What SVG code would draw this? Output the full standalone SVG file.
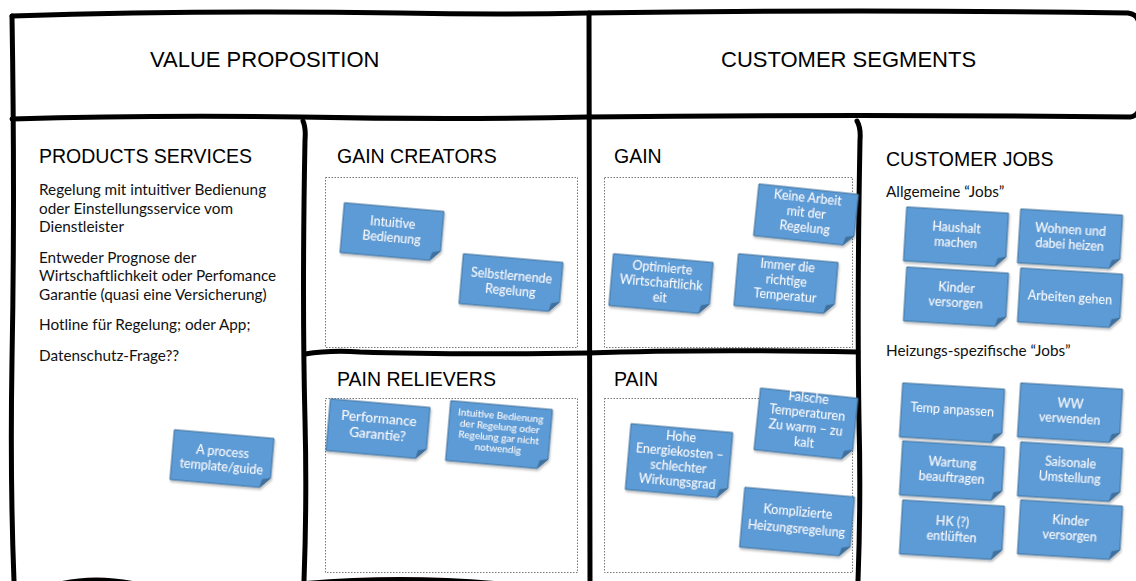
<svg xmlns="http://www.w3.org/2000/svg" width="1136" height="581" viewBox="0 0 1136 581">
<style>
.frame{fill:none;stroke:#000;stroke-width:5;stroke-linecap:round;stroke-linejoin:round}
.dot{fill:none;stroke:#777;stroke-width:1;stroke-dasharray:1.5 1.5}
.h1{font-family:"Liberation Sans",Arial,sans-serif;font-size:22px;fill:#000}
.h2{font-family:"Liberation Sans",Arial,sans-serif;font-size:19.5px;fill:#000}
.body{font-family:Lato,"Open Sans",sans-serif;font-size:15.3px;fill:#111}
.nb{fill:#5B9BD5;stroke:#41719C;stroke-width:1}
.nf{fill:#3F6F9E;stroke:#41719C;stroke-width:0.8}
.nt{font-family:Lato,"Open Sans",sans-serif;font-size:12.5px;fill:#fff;text-anchor:middle}
.ns{font-size:10px}
</style>
<defs>
<filter id="sh" x="-10%" y="-10%" width="130%" height="140%"><feDropShadow dx="1" dy="2" stdDeviation="1.2" flood-color="#000" flood-opacity="0.25"/></filter>
</defs>

<g id="frame">
<path class="frame" d="M12,16 Q200,10 400,13 Q500,15 588,13 Q860,9 1128,13 Q1136,14 1138,20"/>
<path class="frame" d="M12,16 Q15,200 12,360 Q10,480 14,581"/>
<path class="frame" d="M12,119 Q150,115 300,117 Q450,120 588,117 Q860,114 1130,117 Q1136,116 1138,112"/>
<path class="frame" d="M589,13 Q590,300 590,581"/>
<path class="frame" d="M303,121 Q306,128 305,140 Q302,300 305,420 Q307,500 304,581"/>
<path class="frame" d="M857,121 Q861,128 860,140 Q857,300 859,420 Q861,500 858,581"/>
<path class="frame" d="M305,354 Q330,350 360,352 Q450,355 588,353 Q700,349 858,352"/>
<path class="frame" d="M60,584 Q95,576 135,584"/>
<path class="frame" d="M300,584 Q400,575 500,584"/>
</g>

<g id="dotted-boxes">
<rect class="dot" x="325.5" y="177.5" width="252" height="170"/>
<rect class="dot" x="325.5" y="398.5" width="252" height="174"/>
<rect class="dot" x="604.5" y="177.5" width="248" height="170"/>
<rect class="dot" x="604.5" y="398.5" width="248" height="174"/>
</g>

<g id="headers">
<text class="h1" x="150" y="67">VALUE PROPOSITION</text>
<text class="h1" x="721" y="67">CUSTOMER SEGMENTS</text>
<text class="h2" x="39" y="163">PRODUCTS SERVICES</text>
<text class="h2" x="337" y="163">GAIN CREATORS</text>
<text class="h2" x="614" y="163">GAIN</text>
<text class="h2" x="886" y="166">CUSTOMER JOBS</text>
<text class="h2" x="337" y="386">PAIN RELIEVERS</text>
<text class="h2" x="614" y="386">PAIN</text>
</g>

<g id="products-text">
<text class="body" x="39" y="195">Regelung mit intuitiver Bedienung</text>
<text class="body" x="39" y="214">oder Einstellungsservice vom</text>
<text class="body" x="39" y="232">Dienstleister</text>
<text class="body" x="39" y="263">Entweder Prognose der</text>
<text class="body" x="39" y="281">Wirtschaftlichkeit oder Perfomance</text>
<text class="body" x="39" y="300">Garantie (quasi eine Versicherung)</text>
<text class="body" x="39" y="330">Hotline für Regelung; oder App;</text>
<text class="body" x="39" y="361">Datenschutz-Frage??</text>
</g>

<g id="jobs-text">
<text class="body" x="886" y="197">Allgemeine “Jobs”</text>
<text class="body" x="886" y="356">Heizungs-spezifische “Jobs”</text>
</g>

<g id="note-process" transform="translate(222,459) rotate(5)" filter="url(#sh)">
<path class="nb" d="M-50,-25 H50 V15 L40,25 H-50 Z"/><path class="nf" d="M50,15 L40,25 L42,17 Z"/>
<text class="nt" y="-3">A process</text><text class="nt" y="12">template/guide</text>
</g>

<g id="note-intuitive" transform="translate(392,232) rotate(5)" filter="url(#sh)">
<path class="nb" d="M-50,-25 H50 V15 L40,25 H-50 Z"/><path class="nf" d="M50,15 L40,25 L42,17 Z"/>
<text class="nt" y="-5">Intuitive</text><text class="nt" y="10">Bedienung</text>
</g>

<g id="note-selbst" transform="translate(511,283) rotate(5)" filter="url(#sh)">
<path class="nb" d="M-50,-25 H50 V15 L40,25 H-50 Z"/><path class="nf" d="M50,15 L40,25 L42,17 Z"/>
<text class="nt" y="-3">Selbstlernende</text><text class="nt" y="12">Regelung</text>
</g>

<g id="note-performance" transform="translate(378,429) rotate(5)" filter="url(#sh)">
<path class="nb" d="M-50,-26 H50 V16 L40,26 H-50 Z"/><path class="nf" d="M50,16 L40,26 L42,18 Z"/>
<text class="nt" y="-6" style="font-size:13.5px">Performance</text><text class="nt" y="10" style="font-size:13.5px">Garantie?</text>
</g>

<g id="note-intuitive2" transform="translate(499,435) rotate(5)" filter="url(#sh)">
<path class="nb" d="M-51,-30 H51 V20 L41,30 H-51 Z"/><path class="nf" d="M51,20 L41,30 L43,22 Z"/>
<text class="nt ns" y="-16">Intuitive Bedienung</text><text class="nt ns" y="-5">der Regelung oder</text><text class="nt ns" y="6">Regelung gar nicht</text><text class="nt ns" y="17">notwendig</text>
</g>

<g id="note-keine" transform="translate(806,215) rotate(6)" filter="url(#sh)">
<path class="nb" d="M-50,-26 H50 V16 L40,26 H-50 Z"/><path class="nf" d="M50,16 L40,26 L42,18 Z"/>
<text class="nt" y="-13">Keine Arbeit</text><text class="nt" y="2">mit der</text><text class="nt" y="17">Regelung</text>
</g>

<g id="note-optimierte" transform="translate(661,284) rotate(5)" filter="url(#sh)">
<path class="nb" d="M-50,-26 H50 V16 L40,26 H-50 Z"/><path class="nf" d="M50,16 L40,26 L42,18 Z"/>
<text class="nt" y="-12">Optimierte</text><text class="nt" y="3">Wirtschaftlichk</text><text class="nt" y="18">eit</text>
</g>

<g id="note-immer" transform="translate(786,284) rotate(5)" filter="url(#sh)">
<path class="nb" d="M-50,-26 H50 V16 L40,26 H-50 Z"/><path class="nf" d="M50,16 L40,26 L42,18 Z"/>
<text class="nt" y="-14">Immer die</text><text class="nt" y="1">richtige</text><text class="nt" y="16">Temperatur</text>
</g>

<g id="note-hohe" transform="translate(679,461) rotate(5)" filter="url(#sh)">
<path class="nb" d="M-51,-33 H51 V23 L41,33 H-51 Z"/><path class="nf" d="M51,23 L41,33 L43,25 Z"/>
<text class="nt" y="-20">Hohe</text><text class="nt" y="-5">Energiekosten –</text><text class="nt" y="10">schlechter</text><text class="nt" y="25">Wirkungsgrad</text>
</g>

<g id="note-falsche" transform="translate(806,424) rotate(6)" filter="url(#sh)">
<path class="nb" d="M-49,-31 H49 V21 L39,31 H-49 Z"/><path class="nf" d="M49,21 L39,31 L41,23 Z"/>
<text class="nt" y="-22">Falsche</text><text class="nt" y="-7">Temperaturen</text><text class="nt" y="8">Zu warm – zu</text><text class="nt" y="23">kalt</text>
</g>

<g id="note-kompliziert" transform="translate(797,522) rotate(5)" filter="url(#sh)">
<path class="nb" d="M-55,-30 H55 V20 L45,30 H-55 Z"/><path class="nf" d="M55,20 L45,30 L47,22 Z"/>
<text class="nt" y="-6">Komplizierte</text><text class="nt" y="11">Heizungsregelung</text>
</g>

<g id="note-haushalt" transform="translate(956,237) rotate(3.5)" filter="url(#sh)">
<path class="nb" d="M-51,-27 H51 V17 L41,27 H-51 Z"/><path class="nf" d="M51,17 L41,27 L43,19 Z"/>
<text class="nt" y="-5">Haushalt</text><text class="nt" y="10">machen</text>
</g>

<g id="note-wohnen" transform="translate(1070,239) rotate(3.5)" filter="url(#sh)">
<path class="nb" d="M-51,-27 H51 V17 L41,27 H-51 Z"/><path class="nf" d="M51,17 L41,27 L43,19 Z"/>
<text class="nt" y="-5">Wohnen und</text><text class="nt" y="10">dabei heizen</text>
</g>

<g id="note-kinder1" transform="translate(956,297) rotate(3.5)" filter="url(#sh)">
<path class="nb" d="M-51,-27 H51 V17 L41,27 H-51 Z"/><path class="nf" d="M51,17 L41,27 L43,19 Z"/>
<text class="nt" y="-5">Kinder</text><text class="nt" y="10">versorgen</text>
</g>

<g id="note-arbeiten" transform="translate(1070,298) rotate(3.5)" filter="url(#sh)">
<path class="nb" d="M-51,-27 H51 V17 L41,27 H-51 Z"/><path class="nf" d="M51,17 L41,27 L43,19 Z"/>
<text class="nt" y="4">Arbeiten gehen</text>
</g>

<g id="note-temp" transform="translate(952,413) rotate(3.5)" filter="url(#sh)">
<path class="nb" d="M-51,-27 H51 V17 L41,27 H-51 Z"/><path class="nf" d="M51,17 L41,27 L43,19 Z"/>
<text class="nt" y="1">Temp anpassen</text>
</g>

<g id="note-ww" transform="translate(1070,413) rotate(3.5)" filter="url(#sh)">
<path class="nb" d="M-51,-27 H51 V17 L41,27 H-51 Z"/><path class="nf" d="M51,17 L41,27 L43,19 Z"/>
<text class="nt" y="-5">WW</text><text class="nt" y="10">verwenden</text>
</g>

<g id="note-wartung" transform="translate(952,471) rotate(3.5)" filter="url(#sh)">
<path class="nb" d="M-51,-27 H51 V17 L41,27 H-51 Z"/><path class="nf" d="M51,17 L41,27 L43,19 Z"/>
<text class="nt" y="-4">Wartung</text><text class="nt" y="11">beauftragen</text>
</g>

<g id="note-saisonale" transform="translate(1070,472) rotate(3.5)" filter="url(#sh)">
<path class="nb" d="M-51,-27 H51 V17 L41,27 H-51 Z"/><path class="nf" d="M51,17 L41,27 L43,19 Z"/>
<text class="nt" y="-5">Saisonale</text><text class="nt" y="10">Umstellung</text>
</g>

<g id="note-hk" transform="translate(952,530) rotate(3.5)" filter="url(#sh)">
<path class="nb" d="M-51,-27 H51 V17 L41,27 H-51 Z"/><path class="nf" d="M51,17 L41,27 L43,19 Z"/>
<text class="nt" y="-4">HK (?)</text><text class="nt" y="11">entlüften</text>
</g>

<g id="note-kinder2" transform="translate(1070,530) rotate(3.5)" filter="url(#sh)">
<path class="nb" d="M-51,-27 H51 V17 L41,27 H-51 Z"/><path class="nf" d="M51,17 L41,27 L43,19 Z"/>
<text class="nt" y="-5">Kinder</text><text class="nt" y="10">versorgen</text>
</g>
</svg>
